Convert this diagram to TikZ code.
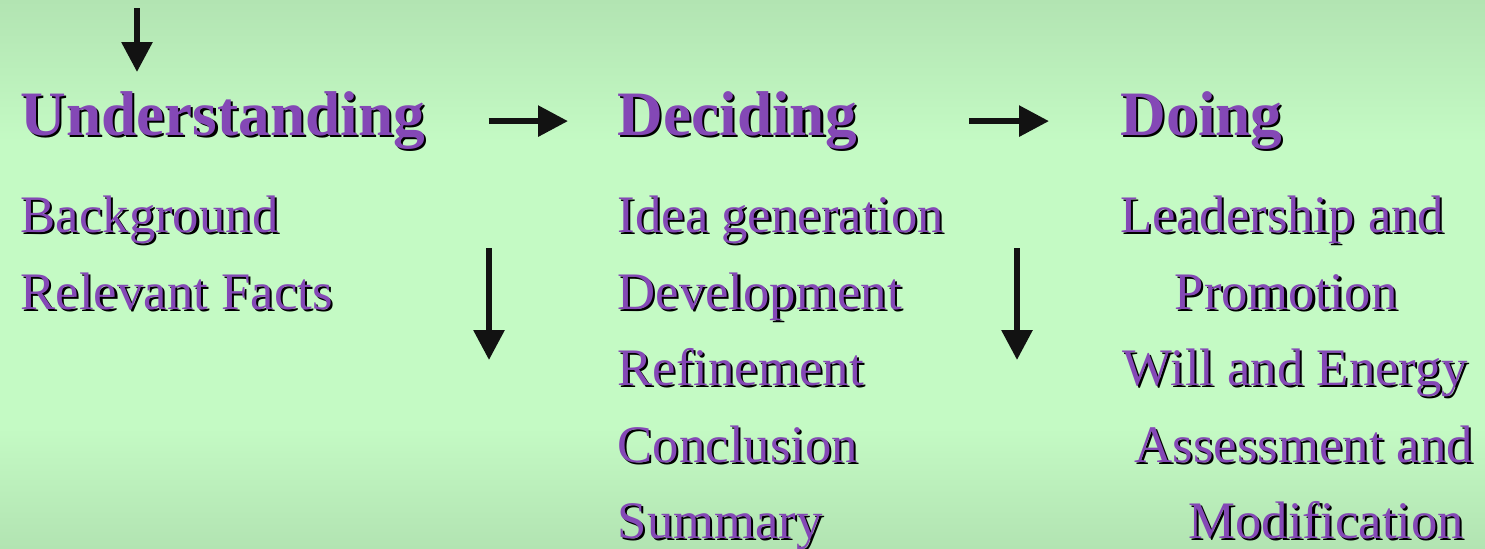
\documentclass[tikz,border=0pt]{standalone}
\usepackage{fontspec}
\setmainfont{Liberation Serif}
\usetikzlibrary{arrows.meta}

\definecolor{slidetext}{RGB}{132,72,182}
\definecolor{slideedge}{RGB}{178,228,178}
\definecolor{slidemid}{RGB}{196,250,196}

% background: darker at top and bottom, light in between
\pgfdeclareverticalshading{slidebg}{100bp}{
color(0bp)=(slideedge); color(25bp)=(slideedge); color(36bp)=(slidemid);
color(62bp)=(slidemid); color(75bp)=(slideedge); color(100bp)=(slideedge)}

% purple text with a thin black drop shadow
\newcommand{\shadowed}[1]{\rlap{\hspace{0.6pt}\raisebox{-0.6pt}{\color{black}#1}}#1}

\tikzset{
heading/.style={anchor=base west, inner sep=0pt, text=slidetext,
  font=\fontsize{18}{20}\selectfont\bfseries},
item/.style={anchor=base west, inner sep=0pt, text=slidetext,
  font=\fontsize{15}{17}\selectfont},
flow/.style={-{Triangle[length=3mm,width=3mm]}, line width=1.7pt, black!93},
}

\begin{document}
\begin{tikzpicture}

\useasboundingbox (0,0) rectangle (14.85,-5.48);
\shade[shading=slidebg] (0,0) rectangle (14.85,-5.48);

% headings
\node[heading] (und) at (0.20,-1.35) {\shadowed{Understanding}};
\node[heading] (dec) at (6.17,-1.35) {\shadowed{Deciding}};
\node[heading] (doi) at (11.20,-1.35) {\shadowed{Doing}};

% understanding
\node[item] (bgr) at (0.20,-2.325) {\shadowed{Background}};
\node[item] (fac) at (0.20,-3.09) {\shadowed{Relevant Facts}};

% deciding
\node[item] (ide) at (6.17,-2.325) {\shadowed{Idea generation}};
\node[item] (dev) at (6.17,-3.09) {\shadowed{Development}};
\node[item] (ref) at (6.17,-3.855) {\shadowed{Refinement}};
\node[item] (con) at (6.17,-4.62) {\shadowed{Conclusion}};
\node[item] (sum) at (6.17,-5.385) {\shadowed{Summary}};

% doing
\node[item] (lea) at (11.20,-2.325) {\shadowed{Leadership and}};
\node[item] (pro) at (11.74,-3.09) {\shadowed{Promotion}};
\node[item] (wil) at (11.22,-3.855) {\shadowed{Will and Energy}};
\node[item] (ass) at (11.34,-4.62) {\shadowed{Assessment and}};
\node[item] (mod) at (11.88,-5.385) {\shadowed{Modification}};

% arrows
\path
(1.37,-0.08) coordinate (intop)
(1.37,-0.72) coordinate (inbot)
(4.89,-2.48) coordinate (downa)
(4.89,-3.60) coordinate (downb)
(10.17,-2.48) coordinate (downc)
(10.17,-3.60) coordinate (downd)
;
\draw[flow] (intop) -- (inbot);
\draw[flow, shorten <=0.63cm, shorten >=0.49cm] (und) -- (dec);
\draw[flow, shorten <=1.12cm, shorten >=0.71cm] (dec) -- (doi);
\draw[flow] (downa) -- (downb);
\draw[flow] (downc) -- (downd);

\end{tikzpicture}
\end{document}
